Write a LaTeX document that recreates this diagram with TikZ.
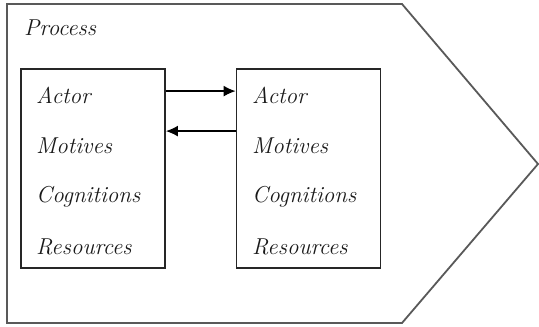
\documentclass[tikz,border=0pt]{standalone}
\usepackage{tikz}
\usetikzlibrary{arrows.meta}

\begin{document}
\begin{tikzpicture}[x=1pt,y=-1pt,
  actorbox/.style={draw=black!85,line width=1.8pt,minimum width=144pt,minimum height=199pt,inner sep=0pt},
  lbl/.style={font=\fontsize{23}{26}\selectfont\itshape,anchor=west,inner sep=0pt,text=black!90},
  flow/.style={-{Latex[length=12pt,width=11pt]},line width=1.5pt}]
\useasboundingbox (0,0) rectangle (539,327);
% outer process shape
\draw[black!65,line width=1.8pt] (7,4) -- (402,4) -- (538,164) -- (402,323) -- (7,323) -- cycle;
\node[lbl] (proc) at (24,28) {Process};
\node[actorbox] (left) at (93,168.5) {};
\node[actorbox] (right) at (308.5,168.5) {};
\foreach \t [count=\i] in {Actor,Motives,Cognitions,Resources}{
  \node[lbl] (la\i) at (36,{95+(\i-1)*50.7}) {\t};
  \node[lbl] (ra\i) at (252,{95+(\i-1)*50.7}) {\t};
}
\draw[flow] ([yshift=-23pt]left.north east) -- ([yshift=-23pt]right.north west);
\draw[flow] ([yshift=-63pt]right.north west) -- ([yshift=-63pt]left.north east);
\end{tikzpicture}
\end{document}
